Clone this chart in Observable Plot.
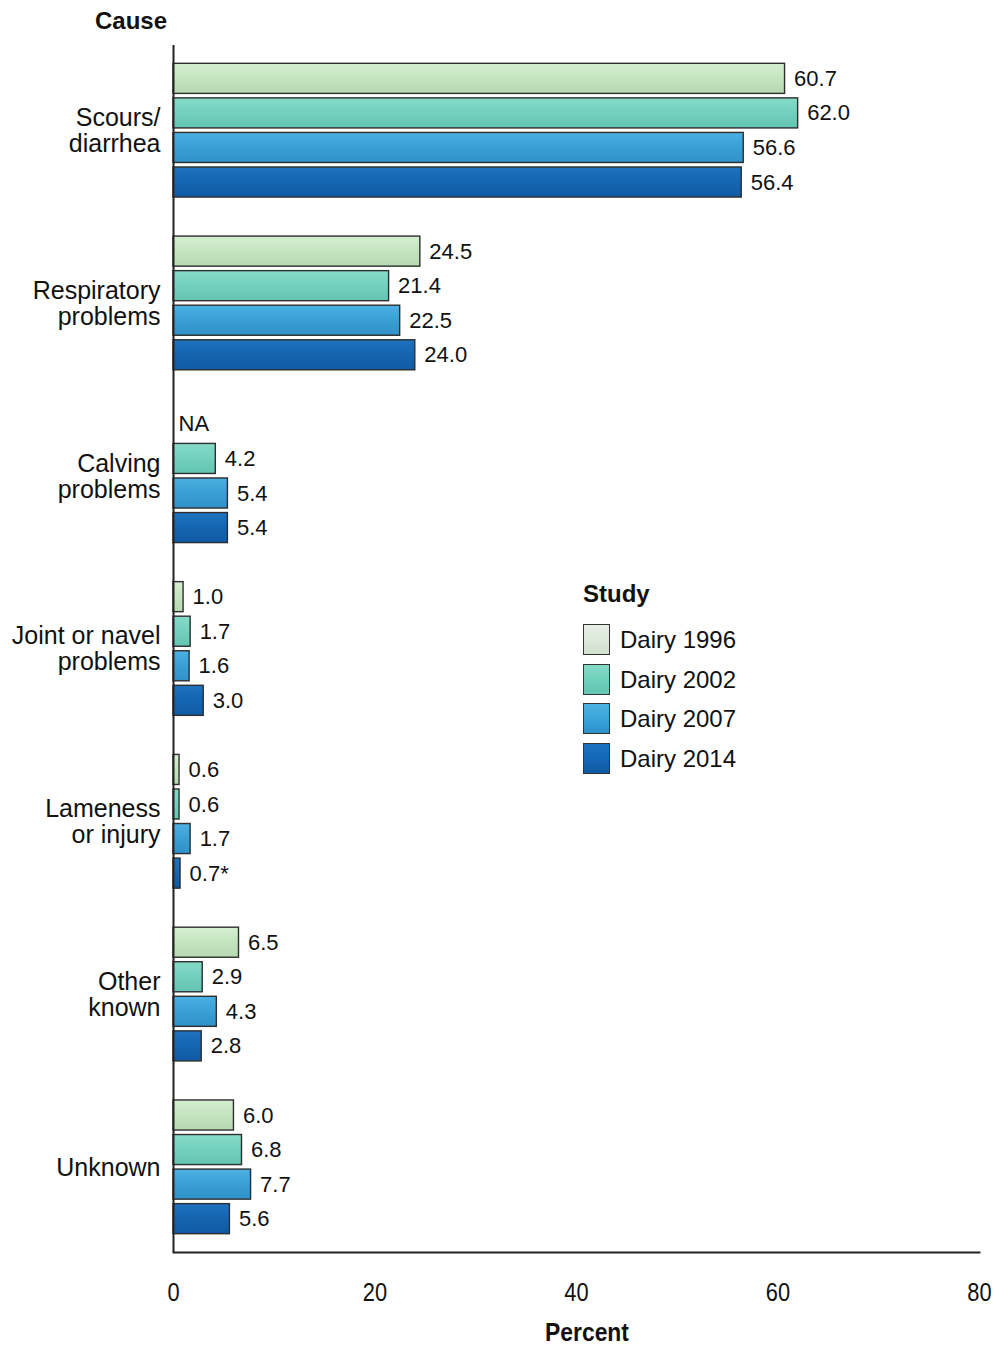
<!DOCTYPE html>
<html>
<head>
<meta charset="utf-8">
<script src="https://cdn.jsdelivr.net/npm/d3@7"></script>
<script src="https://cdn.jsdelivr.net/npm/@observablehq/plot@0.6"></script>
<style>
  html, body { margin: 0; padding: 0; background: #fff; }
  #wrap { position: relative; width: 998px; height: 1348px; font-family: "Liberation Sans", Arial, sans-serif; color: #111; }
  #chart { position: absolute; left: 0; top: 0; }
  .abs { position: absolute; white-space: nowrap; }
  .title { font-weight: bold; font-size: 24px; line-height: 28px; }
  .xlabel { font-weight: bold; font-size: 26px; line-height: 30px; }
  .sw { position: absolute; width: 25px; height: 29px; border: 1.5px solid #333; }
  .lg { font-size: 24px; line-height: 28px; }
</style>
</head>
<body>
<div id="wrap">
  <div id="chart"></div>
</div>
<script>
// ---- data ----
const studies = ["Dairy 1996", "Dairy 2002", "Dairy 2007", "Dairy 2014"];
const causes = ["Scours/\ndiarrhea", "Respiratory\nproblems", "Calving\nproblems", "Joint or navel\nproblems", "Lameness\nor injury", "Other\nknown", "Unknown"];
const dairy1996 = [60.7, 24.5, null, 1.0, 0.6, 6.5, 6.0];
const dairy2002 = [62.0, 21.4, 4.2, 1.7, 0.6, 2.9, 6.8];
const dairy2007 = [56.6, 22.5, 5.4, 1.6, 1.7, 4.3, 7.7];
const dairy2014 = [56.4, 24.0, 5.4, 3.0, 0.7, 2.8, 5.6];
const notes2014 = ["", "", "", "", "*", "", ""];
const xTicks = [0, 20, 40, 60, 80];
const xTitle = "Percent";
const yTitle = "Cause";
const legendTitle = "Study";

// ---- styles ----
const fills = ["#c4e4bf", "#72d1bd", "#3a9fd5", "#1565b1"];
const gradTop = ["#d6eed2", "#86dac8", "#4bb0e2", "#1d72bf"];
const gradBot = ["#b6d9b1", "#63c4b1", "#2f91c8", "#105aa3"];
const swatch = ["#dde9db", "#6fd1bb", "#3aa6dc", "#1467b8"];

const seriesVals = [dairy1996, dairy2002, dairy2007, dairy2014];
const rows = [];
studies.forEach((s, si) => {
  causes.forEach((c, ci) => {
    const v = seriesVals[si][ci];
    const note = si === 3 ? notes2014[ci] : "";
    rows.push({key: c + "|" + s, cause: c, study: s, si, value: v,
      label: v == null ? "NA" : v.toFixed(1) + note});
  });
});

const yDomain = [];
causes.forEach((c, ci) => {
  studies.forEach(s => yDomain.push(c + "|" + s));
  if (ci < causes.length - 1) yDomain.push("gap" + ci);
});

const W = 998, H = 1348, mT = 45, mB = 96, mL = 173, mR = 19;
const padIn = 0.13, padOut = 0.53;
const step = d3.scaleBand().domain(yDomain).range([mT, H - mB]).paddingInner(padIn).paddingOuter(padOut).step();

const marks = [];
studies.forEach((s, si) => {
  marks.push(Plot.barX(rows.filter(d => d.si === si && d.value != null), {
    x: "value", y: "key", fill: `url(#grad${si})`, stroke: "#2e2e2e", strokeWidth: 1.4
  }));
});
marks.push(Plot.text(rows.filter(d => d.value != null), {
  x: "value", y: "key", text: "label", dx: 9, textAnchor: "start", fontSize: 22, fill: "#111"
}));
marks.push(Plot.text(rows.filter(d => d.value == null), {
  x: () => 0, y: "key", text: "label", dx: 5, textAnchor: "start", fontSize: 22, fill: "#111"
}));
marks.push(Plot.text(causes, {
  x: () => 0, y: c => c + "|Dairy 2002", text: c => c, dy: step / 2, dx: -13,
  textAnchor: "end", fontSize: 25, lineHeight: 1.04, fill: "#111"
}));
marks.push(Plot.ruleX([0], {stroke: "#222", strokeWidth: 2}));
marks.push(Plot.frame({anchor: "bottom", stroke: "#222", strokeWidth: 2}));
marks.push(Plot.axisX({ticks: xTicks, tickSize: 0, tickPadding: 30, tickFormat: d => String(d),
  fontSize: 26, label: null, fill: "#111"}));

const svg = Plot.plot({
  width: W, height: H,
  marginTop: mT, marginBottom: mB, marginLeft: mL, marginRight: mR,
  style: {fontFamily: "Liberation Sans, Arial, sans-serif", fontSize: "21px", background: "#fff", color: "#111"},
  x: {domain: [0, 80], axis: null},
  y: {domain: yDomain, paddingInner: padIn, paddingOuter: padOut, round: false, axis: null},
  marks
});

const defs = d3.select(svg).insert("defs", ":first-child");
studies.forEach((s, i) => {
  const g = defs.append("linearGradient").attr("id", "grad" + i).attr("x1", 0).attr("y1", 0).attr("x2", 0).attr("y2", 1);
  g.append("stop").attr("offset", "0%").attr("stop-color", gradTop[i]);
  g.append("stop").attr("offset", "50%").attr("stop-color", fills[i]);
  g.append("stop").attr("offset", "100%").attr("stop-color", gradBot[i]);
});
// condense the x tick labels (the reference uses a narrow face)
d3.select(svg).selectAll('g[aria-label="x-axis tick label"] text').each(function() {
  const t = this.getAttribute("transform") || "";
  this.setAttribute("transform", t + " scale(0.84,1)");
});
document.getElementById("chart").appendChild(svg);

// ---- titles & legend (HTML) ----
const wrap = document.getElementById("wrap");
function addDiv(cls, text, left, top, extra) {
  const d = document.createElement("div");
  d.className = "abs " + cls;
  d.textContent = text;
  d.style.left = left + "px";
  d.style.top = top + "px";
  if (extra) Object.assign(d.style, extra);
  wrap.appendChild(d);
  return d;
}
addDiv("title", yTitle, 131, 7, {transform: "translateX(-50%)"});
addDiv("xlabel", xTitle, 587, 1317, {transform: "translateX(-50%) scaleX(0.88)"});
addDiv("title", legendTitle, 583, 580);
const swTops = [624, 663.5, 703, 742.5];
studies.forEach((s, i) => {
  const sw = document.createElement("div");
  sw.className = "sw";
  sw.style.left = "583px";
  sw.style.top = swTops[i] + "px";
  sw.style.background = `linear-gradient(${i === 0 ? "#e6efe4" : gradTop[i]}, ${swatch[i]} 50%, ${i === 0 ? "#d2e0d0" : gradBot[i]})`;
  wrap.appendChild(sw);
  addDiv("lg", s, 620, swTops[i] + 2);
});
</script>
</body>
</html>
